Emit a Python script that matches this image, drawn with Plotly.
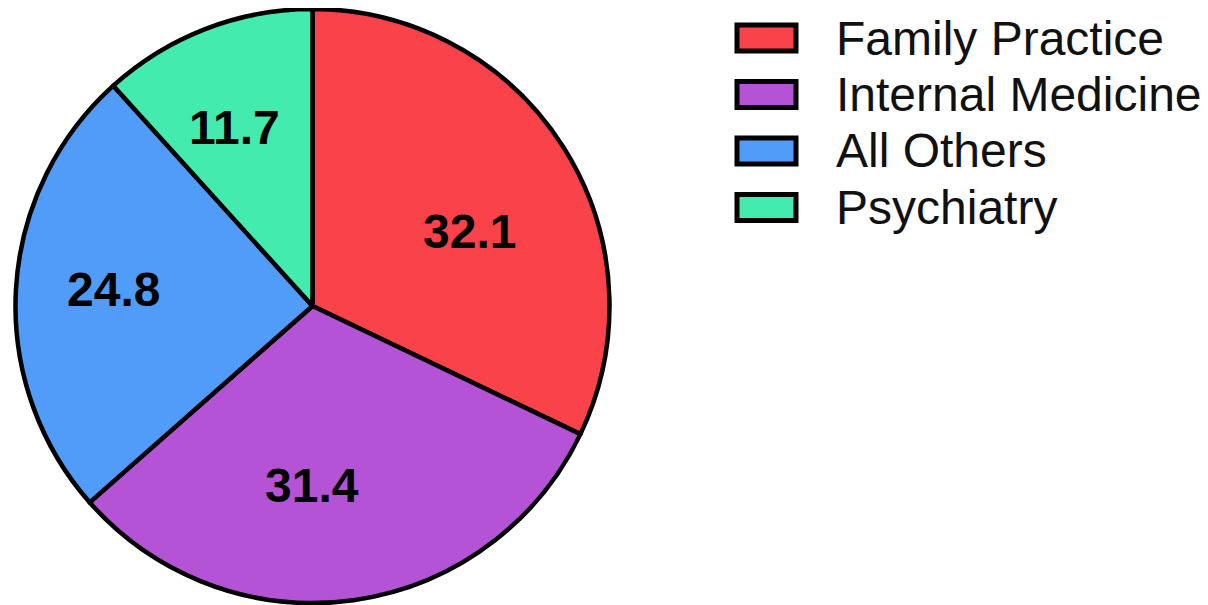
import math
import plotly.graph_objects as go

labels = ["Family Practice", "Internal Medicine", "All Others", "Psychiatry"]
values = [32.1, 31.4, 24.8, 11.7]
colors = ["#F9424A", "#B553D6", "#519CF8", "#44EBAE"]

W, H = 1208, 605
OFF = 8  # page body margin of the browser

# pie geometry (pixels in figure space)
CX, CY, R = 312.5 - OFF, 306 - OFF, 297

# label placement style: radius fraction and angular nudge per slice
label_rfrac = [0.586, 0.606, 0.674, 0.658]
label_dang = [7.0, 8.1, 1.6, -2.6]

fig = go.Figure(go.Pie(
    labels=labels,
    values=values,
    textinfo="none",
    marker=dict(colors=colors, line=dict(color="black", width=4.5)),
    sort=False,
    direction="clockwise",
    rotation=0,
    showlegend=False,
    hoverinfo="label+value",
    domain=dict(x=[(CX - R) / W, (CX + R) / W], y=[1 - (CY + R) / H, 1 - (CY - R) / H]),
))

annotations = []
shapes = []

# value labels at slice angles derived from the data
total = sum(values)
cum = 0.0
for v, rf, da in zip(values, label_rfrac, label_dang):
    mid = (cum + v / 2) / total * 360 + da
    cum += v
    a = math.radians(mid)
    px = CX + rf * R * math.sin(a)
    py = CY - rf * R * math.cos(a)
    annotations.append(dict(
        text=f"<b>{v:.1f}</b>", xref="paper", yref="paper", x=px / W, y=1 - py / H,
        xanchor="center", yanchor="middle", showarrow=False,
        font=dict(family="Liberation Sans, Arial, sans-serif", size=48, color="black"),
    ))

# custom legend (large boxes like the reference)
top = 38 - OFF
step = 56.5
for i, (lab, col) in enumerate(zip(labels, colors)):
    yc = top + i * step
    shapes.append(dict(
        type="rect", xref="paper", yref="paper",
        x0=(737 - OFF) / W, x1=(796 - OFF) / W, y0=1 - (yc - 13) / H, y1=1 - (yc + 13) / H,
        fillcolor=col, line=dict(color="black", width=5),
    ))
    annotations.append(dict(
        text=lab, xref="paper", yref="paper", x=(834 - OFF) / W, y=1 - yc / H,
        xanchor="left", yanchor="middle", showarrow=False,
        font=dict(family="Liberation Sans, Arial, sans-serif", size=48, color="#111111"),
    ))

fig.update_layout(
    width=W, height=H,
    margin=dict(l=0, r=0, t=0, b=0),
    paper_bgcolor="white",
    plot_bgcolor="white",
    shapes=shapes,
    annotations=annotations,
)

fig.write_html("out.html")
